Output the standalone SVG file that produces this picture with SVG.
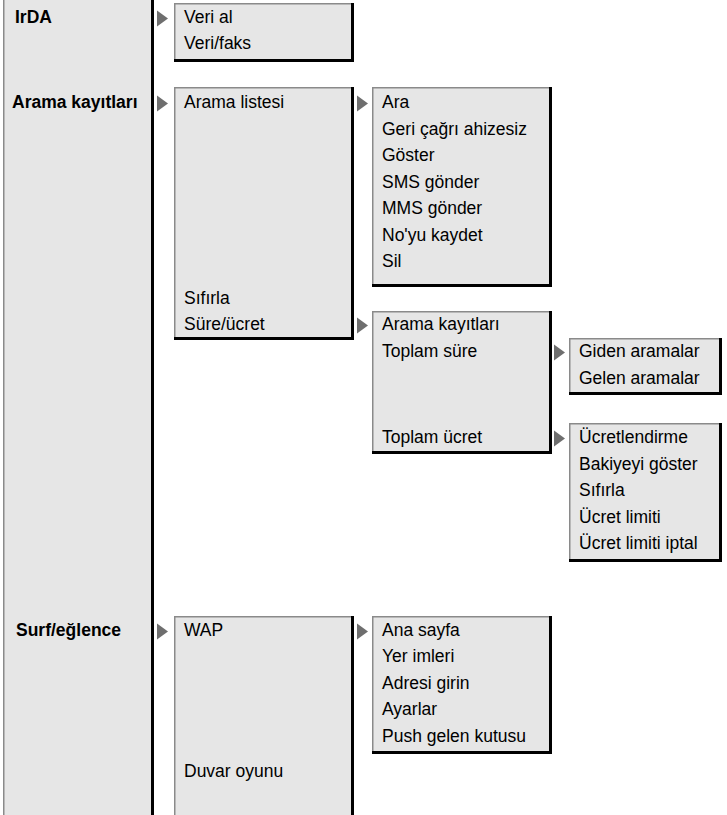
<svg xmlns="http://www.w3.org/2000/svg" width="727" height="815" viewBox="0 0 727 815">
<defs>
<style>
.bx{fill:#e6e6e6;stroke:none}
.lt{stroke:#8a8a8a;stroke-width:1.5;fill:none}
.dk{stroke:#000;stroke-width:3;fill:none}
.t{font-family:"Liberation Sans",Arial,sans-serif;font-size:17.5px;fill:#000}
.b{font-family:"Liberation Sans",Arial,sans-serif;font-size:17.5px;font-weight:bold;fill:#000}
.ar{fill:#6e6e6e}
</style>
</defs>
<rect width="727" height="815" fill="#fff"/>
<g id="col1">
<rect class="bx" x="3" y="-5" width="149" height="825"/>
<line class="lt" x1="3.75" y1="-5" x2="3.75" y2="820"/>
<line class="dk" x1="152.5" y1="-5" x2="152.5" y2="820"/>
</g>
<g id="n-irda"><text class="b" x="15" y="23">IrDA</text></g>
<g id="n-arama"><text class="b" x="12" y="108">Arama kayıtları</text></g>
<g id="n-surf"><text class="b" x="16" y="636">Surf/eğlence</text></g>

<g id="n-veri">
<rect class="bx" x="174" y="3" width="178" height="57"/>
<polyline class="lt" points="174.75,60 174.75,3.75 352,3.75"/>
<polyline class="dk" points="352.5,3 352.5,60.5 174,60.5"/>
<text class="t" x="184" y="23">Veri al</text>
<text class="t" x="184" y="49">Veri/faks</text>
</g>

<g id="n-listesi">
<rect class="bx" x="174" y="87" width="178" height="251"/>
<polyline class="lt" points="174.75,338 174.75,87.75 352,87.75"/>
<polyline class="dk" points="352.5,87 352.5,338.5 174,338.5"/>
<text class="t" x="184" y="108">Arama listesi</text>
<text class="t" x="184" y="304">Sıfırla</text>
<text class="t" x="184" y="330">Süre/ücret</text>
</g>

<g id="n-ara">
<rect class="bx" x="372" y="87" width="178" height="198"/>
<polyline class="lt" points="372.75,285 372.75,87.75 550,87.75"/>
<polyline class="dk" points="550.5,87 550.5,285.5 372,285.5"/>
<text class="t" x="382" y="108">Ara</text>
<text class="t" x="382" y="134.5">Geri çağrı ahizesiz</text>
<text class="t" x="382" y="161">Göster</text>
<text class="t" x="382" y="187.5">SMS gönder</text>
<text class="t" x="382" y="214">MMS gönder</text>
<text class="t" x="382" y="240.5">No'yu kaydet</text>
<text class="t" x="382" y="267">Sil</text>
</g>

<g id="n-sure">
<rect class="bx" x="372" y="311" width="178" height="141"/>
<polyline class="lt" points="372.75,452 372.75,311.75 550,311.75"/>
<polyline class="dk" points="550.5,311 550.5,452.5 372,452.5"/>
<text class="t" x="382" y="330">Arama kayıtları</text>
<text class="t" x="382" y="357">Toplam süre</text>
<text class="t" x="382" y="443">Toplam ücret</text>
</g>

<g id="n-giden">
<rect class="bx" x="569" y="338" width="151" height="55"/>
<polyline class="lt" points="569.75,393 569.75,338.75 720,338.75"/>
<polyline class="dk" points="720.5,338 720.5,393.5 569,393.5"/>
<text class="t" x="579" y="357">Giden aramalar</text>
<text class="t" x="579" y="384">Gelen aramalar</text>
</g>

<g id="n-ucret">
<rect class="bx" x="569" y="423" width="151" height="137"/>
<polyline class="lt" points="569.75,560 569.75,423.75 720,423.75"/>
<polyline class="dk" points="720.5,423 720.5,560.5 569,560.5"/>
<text class="t" x="579" y="443">Ücretlendirme</text>
<text class="t" x="579" y="470">Bakiyeyi göster</text>
<text class="t" x="579" y="496">Sıfırla</text>
<text class="t" x="579" y="523">Ücret limiti</text>
<text class="t" x="579" y="549">Ücret limiti iptal</text>
</g>

<g id="n-wap">
<rect class="bx" x="174" y="616" width="178" height="204"/>
<polyline class="lt" points="174.75,820 174.75,616.75 352,616.75"/>
<line class="dk" x1="352.5" y1="616" x2="352.5" y2="820"/>
<text class="t" x="184" y="636">WAP</text>
<text class="t" x="184" y="777">Duvar oyunu</text>
</g>

<g id="n-anasayfa">
<rect class="bx" x="372" y="616" width="178" height="136"/>
<polyline class="lt" points="372.75,752 372.75,616.75 550,616.75"/>
<polyline class="dk" points="550.5,616 550.5,752.5 372,752.5"/>
<text class="t" x="382" y="636">Ana sayfa</text>
<text class="t" x="382" y="662">Yer imleri</text>
<text class="t" x="382" y="689">Adresi girin</text>
<text class="t" x="382" y="715">Ayarlar</text>
<text class="t" x="382" y="742">Push gelen kutusu</text>
</g>

<g id="connectors">
<polygon class="ar" points="157,10.5 168,18.5 157,26.5"/>
<polygon class="ar" points="157,95.5 168,103.5 157,111.5"/>
<polygon class="ar" points="357,95.5 368,103.5 357,111.5"/>
<polygon class="ar" points="357,317.5 368,325.5 357,333.5"/>
<polygon class="ar" points="554,344.5 565,352.5 554,360.5"/>
<polygon class="ar" points="554,430.5 565,438.5 554,446.5"/>
<polygon class="ar" points="157,623.5 168,631.5 157,639.5"/>
<polygon class="ar" points="357,623.5 368,631.5 357,639.5"/>
</g>
</svg>
